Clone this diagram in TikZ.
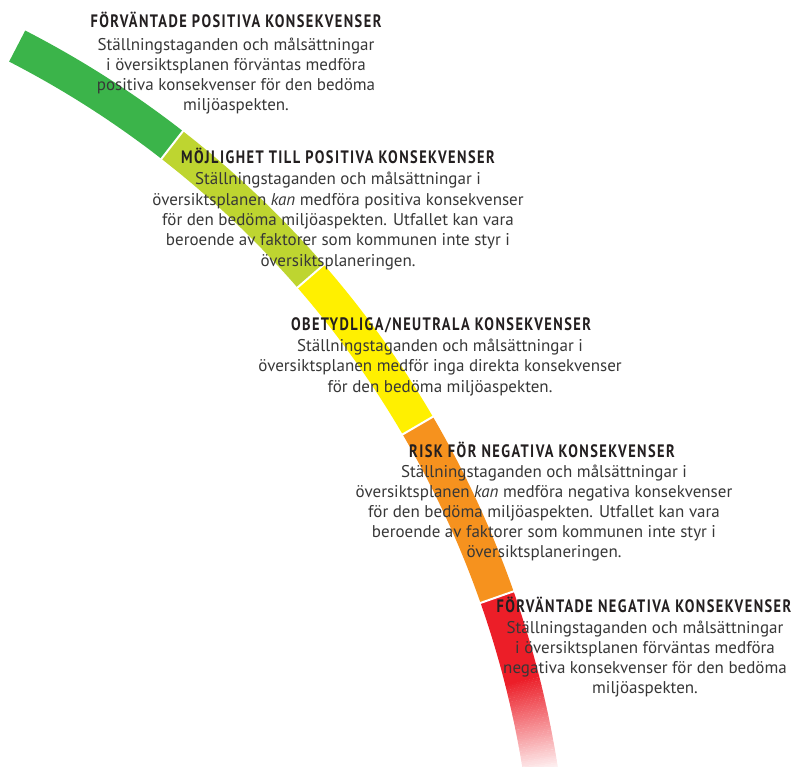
\documentclass[tikz,border=0pt]{standalone}
\usepackage{fontspec}
\setmainfont{PT Sans}
\newfontfamily\headfont[FakeStretch=0.80,LetterSpace=8]{PT Sans}
\usetikzlibrary{calc}
\definecolor{cgreen}{RGB}{59,180,74}
\definecolor{cyg}{RGB}{190,213,48}
\definecolor{cyellow}{RGB}{255,240,0}
\definecolor{corange}{RGB}{246,146,30}
\definecolor{cred}{RGB}{236,30,40}
\definecolor{headcol}{RGB}{35,31,32}
\definecolor{bodycol}{RGB}{55,55,55}
\begin{document}
\begin{tikzpicture}[x=1pt,y=1pt,
  band/.style={line width=35pt},
  sep/.style={draw=white,line width=2pt},
  head/.style={anchor=base,inner sep=0pt,text=headcol,font=\headfont\bfseries\fontsize{18}{20}\selectfont},
  body/.style={anchor=base,inner sep=0pt,text=bodycol,font=\fontsize{17}{20}\selectfont}]
\useasboundingbox (0,0) rectangle (794,-767);
\coordinate (O) at (-433.5,-923);
\begin{scope}
\clip (0,0) rectangle (794,-767);
\draw[band,cgreen] ($(O)+(62.8:986pt)$) arc[start angle=62.8,end angle=52.1,radius=986pt];
\draw[band,cyg] ($(O)+(52.1:986pt)$) arc[start angle=52.1,end angle=41.0,radius=986pt];
\draw[band,cyellow] ($(O)+(41.0:986pt)$) arc[start angle=41.0,end angle=30.3,radius=986pt];
\draw[band,corange] ($(O)+(30.3:986pt)$) arc[start angle=30.3,end angle=19.3,radius=986pt];
\draw[band,cred] ($(O)+(19.3:986pt)$) arc[start angle=19.3,end angle=14.25,radius=986pt];
\foreach \i in {0,...,57}{
  \pgfmathsetmacro\st{14.3-0.1*\i}
  \pgfmathsetmacro\en{14.3-0.1*\i-0.12}
  \pgfmathtruncatemacro\p{100-\i*100/57}
  \draw[band,cred!\p!white] ($(O)+(\st:986pt)$) arc[start angle=\st,end angle=\en,radius=986pt];
}
\foreach \a in {52.1,41.0,30.3,19.3}{
  \draw[sep] ($(O)+(\a:966pt)$) -- ($(O)+(\a:1006pt)$);
}
\end{scope}
% block 1
\node[head] (h1) at (236,-28) {FÖRVÄNTADE POSITIVA KONSEKVENSER};
\foreach \t [count=\k] in {Ställningstaganden och målsättningar,i översiktsplanen förväntas medföra,positiva konsekvenser för den bedöma,miljöaspekten.}
  \node[body] (b1-\k) at (236,{-51-20*(\k-1)}) {\t};
% block 2
\node[head] (h2) at (338,-164) {MÖJLIGHET TILL POSITIVA KONSEKVENSER};
\foreach \t [count=\k] in {Ställningstaganden och målsättningar i,översiktsplanen \textit{kan} medföra positiva konsekvenser,för den bedöma miljöaspekten. Utfallet kan vara,beroende av faktorer som kommunen inte styr i,översiktsplaneringen.}
  \node[body] (b2-\k) at (338,{-185-20.3*(\k-1)}) {\t};
% block 3
\node[head] (h3) at (441,-330) {OBETYDLIGA/NEUTRALA KONSEKVENSER};
\foreach \t [count=\k] in {Ställningstaganden och målsättningar i,översiktsplanen medför inga direkta konsekvenser,för den bedöma miljöaspekten.}
  \node[body] (b3-\k) at (440,{-351-20.5*(\k-1)}) {\t};
% block 4
\node[head] (h4) at (542,-457) {RISK FÖR NEGATIVA KONSEKVENSER};
\foreach \t [count=\k] in {Ställningstaganden och målsättningar i,översiktsplanen \textit{kan} medföra negativa konsekvenser,för den bedöma miljöaspekten. Utfallet kan vara,beroende av faktorer som kommunen inte styr i,översiktsplaneringen.}
  \node[body] (b4-\k) at (544,{-477-20.1*(\k-1)}) {\t};
% block 5
\node[head] (h5) at (644,-612) {FÖRVÄNTADE NEGATIVA KONSEKVENSER};
\foreach \t [count=\k] in {Ställningstaganden och målsättningar,i översiktsplanen förväntas medföra,negativa konsekvenser för den bedöma,miljöaspekten.}
  \node[body] (b5-\k) at (645,{-633-20*(\k-1)}) {\t};
\end{tikzpicture}
\end{document}
